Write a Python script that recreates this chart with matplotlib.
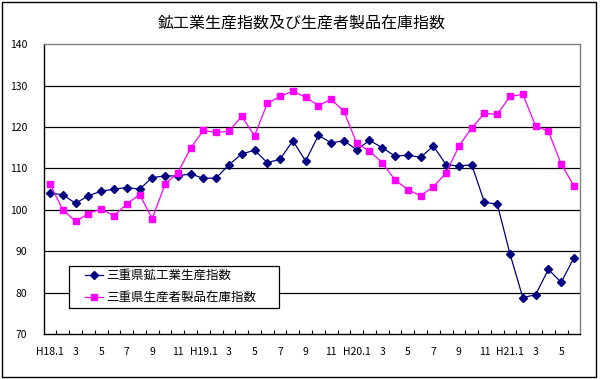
import matplotlib
matplotlib.use("Agg")
import matplotlib.pyplot as plt
from matplotlib.patches import Rectangle
from matplotlib.lines import Line2D
from matplotlib.legend_handler import HandlerLine2D

plt.rcParams['font.family'] = ['Noto Sans CJK JP', 'DejaVu Sans']

title = "鉱工業生産指数及び生産者製品在庫指数"
series1_name = "三重県鉱工業生産指数"
series2_name = "三重県生産者製品在庫指数"

tick_labels = ["H18.1", "", "3", "", "5", "", "7", "", "9", "", "11", "",
               "H19.1", "", "3", "", "5", "", "7", "", "9", "", "11", "",
               "H20.1", "", "3", "", "5", "", "7", "", "9", "", "11", "",
               "H21.1", "", "3", "", "5", ""]

production = [104.1, 103.6, 101.6, 103.4, 104.5, 105.0, 105.4, 105.0, 107.8, 108.2, 108.2, 108.7,
              107.6, 107.7, 110.9, 113.5, 114.4, 111.4, 112.2, 116.7, 111.8, 118.0, 116.2, 116.7,
              114.5, 116.8, 115.0, 113.0, 113.2, 112.7, 115.4, 110.9, 110.6, 110.9, 101.8, 101.4,
              89.3, 78.8, 79.5, 85.6, 82.5, 88.4]

inventory = [106.2, 100.0, 97.2, 99.1, 100.2, 98.6, 101.4, 103.7, 97.9, 106.2, 109.0, 114.9,
             119.2, 118.7, 119.0, 122.6, 117.9, 125.7, 127.4, 128.7, 127.2, 125.2, 126.7, 123.8,
             116.1, 114.2, 111.4, 107.2, 104.9, 103.4, 105.6, 108.9, 115.4, 119.8, 123.3, 123.1,
             127.4, 127.9, 120.3, 119.0, 111.1, 105.8]

y_ticks = [70, 80, 90, 100, 110, 120, 130, 140]

fig = plt.figure(figsize=(6.0, 3.79), dpi=100)
ax = fig.add_axes([0.0728, 0.1187, 0.8944, 0.7644])

x = list(range(len(production)))
l1, = ax.plot(x, production, color='#000080', lw=0.9, marker='D', markersize=4.5,
              markerfacecolor='#000080', markeredgecolor='#000080', label=series1_name, zorder=3)
l2, = ax.plot(x, inventory, color='#FF00FF', lw=0.9, marker='s', markersize=5,
              markerfacecolor='#FF00FF', markeredgecolor='#FF00FF', label=series2_name, zorder=3)

ax.set_xlim(-0.5, len(production) - 0.5)
ax.set_ylim(70, 140)
ax.set_yticks(y_ticks)
ax.set_yticklabels([str(v) for v in y_ticks], fontsize=7.5)
for v in y_ticks[1:-1]:
    ax.axhline(v, color='black', lw=0.9, zorder=1)

ax.set_xticks(x)
ax.set_xticklabels(tick_labels, fontsize=7.5)
ax.tick_params(axis='x', which='major', length=0, pad=9)
ax.set_xticks([i - 0.5 for i in range(1, len(production))], minor=True)
ax.tick_params(axis='x', which='minor', direction='in', length=3, width=0.8, color='black')
ax.tick_params(axis='y', length=0, pad=12)

for s in ['top', 'right']:
    ax.spines[s].set_color('#808080')
    ax.spines[s].set_linewidth(1.0)
for s in ['left', 'bottom']:
    ax.spines[s].set_color('black')
    ax.spines[s].set_linewidth(1.0)

fig.text(0.502, 0.94, title, ha='center', va='center', fontsize=11.5)

hmap = {l1: HandlerLine2D(xpad=1.0), l2: HandlerLine2D(xpad=1.0)}
leg = ax.legend(handles=[l1, l2], loc='upper left',
                bbox_to_anchor=(0.0471, 0.0867, 0.391, 0.148), mode='expand',
                fontsize=9, frameon=True, fancybox=False, framealpha=1, edgecolor='black',
                handlelength=2.45, handletextpad=0.3, borderpad=0.25, labelspacing=0.75,
                borderaxespad=0, handler_map=hmap)
leg.get_frame().set_linewidth(0.9)
leg.set_zorder(5)

fig.patches.append(Rectangle((0.004, 0.005), 0.989, 0.99, transform=fig.transFigure,
                             fill=False, edgecolor='black', lw=1.0))

fig.savefig('out.png', dpi=100)
